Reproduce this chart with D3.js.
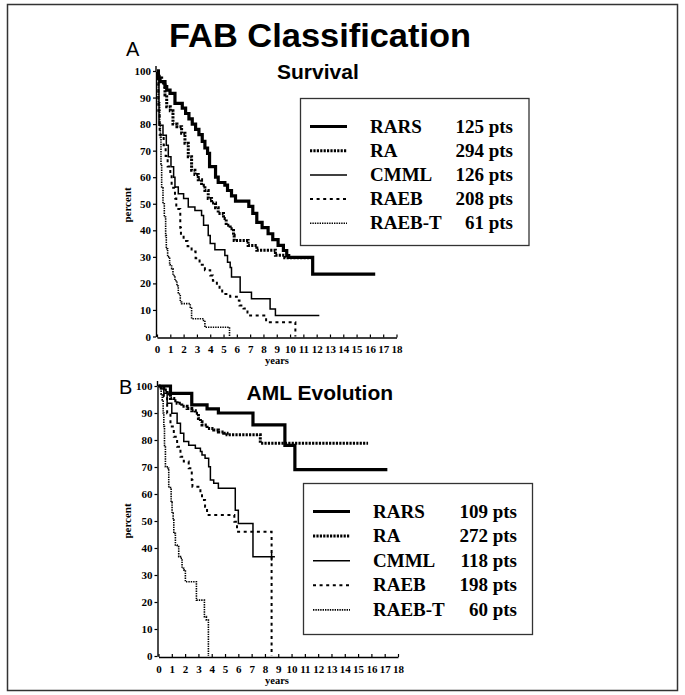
<!DOCTYPE html>
<html>
<head>
<meta charset="utf-8">
<script src="https://cdn.jsdelivr.net/npm/d3@7/dist/d3.min.js"></script>
<style>
  html, body { margin: 0; padding: 0; background: #fff; }
  svg { display: block; }
</style>
</head>
<body>
<script>
// ---- data: Kaplan-Meier step points [years, percent] per FAB subtype ----
const fabGroups = ["RARS", "RA", "CMML", "RAEB", "RAEB-T"];
const survivalPts = [125, 294, 126, 208, 61];
const amlPts = [109, 272, 118, 198, 60];

const yTicks = [0, 10, 20, 30, 40, 50, 60, 70, 80, 90, 100];
const xTicks = d3.range(0, 19);

// Panel A: survival
const survRARS = [[0,100],[0.1,97.2],[0.23,96],[0.6,94.1],[0.73,92.8],[0.98,91.6],[1.35,87.8],
  [1.9,86],[2.15,84],[2.4,82],[2.65,80],[2.9,78],[3.15,76],[3.4,73.5],[3.6,71],[3.8,69],[3.95,64],
  [4.4,60],[4.6,58],[5.1,57],[5.3,55],[5.6,53],[5.9,51],[6.9,49],[7.2,46.4],[7.5,43],[7.9,41],
  [8.35,38.7],[8.7,36.5],[9.1,34.3],[9.5,32.4],[9.75,30.5],[9.9,29.8],[11.7,23.5],[16.4,23.5]];
const survRA = [[0,100],[0.1,98],[0.35,95.5],[0.6,91],[0.73,86.5],[1.0,85],[1.2,80],[1.5,79],
  [1.85,76.6],[2.1,72.8],[2.35,67.7],[2.6,62.6],[2.85,61],[3.1,59],[3.35,57],[3.6,55],[3.85,52],
  [4.1,50.3],[4.4,48.5],[4.6,46.3],[5.0,44.4],[5.2,41.9],[5.5,40.6],[5.75,38.1],[5.8,36.2],
  [6.85,34.3],[7.5,32.5],[8.9,30.6],[9.6,29.7],[11.6,29.7]];
const survCMML = [[0,100],[0.15,79.6],[0.45,75.8],[0.7,72],[0.85,67.7],[1.05,63.9],[1.25,60],
  [1.35,56.3],[1.6,53.8],[2.0,52],[2.35,48.8],[2.85,47.5],[3.35,45.6],[3.5,41.9],[3.85,38],
  [4.0,35],[4.35,32.7],[5.1,30.5],[5.3,28],[5.5,26],[5.6,22.4],[6.25,16.7],[7.1,14.2],
  [8.5,10.4],[8.9,7.9],[12.2,7.9]];
const survRAEB = [[0,100],[0.1,85],[0.2,76],[0.5,72],[0.65,68],[0.8,64],[1.0,61],[1.1,56],
  [1.35,52],[1.45,48],[1.75,41],[1.8,38],[2.0,36],[2.3,34],[2.6,32],[2.9,29.5],[3.2,27],
  [3.6,25],[4.0,23],[4.2,21],[4.5,19.5],[4.7,18],[4.9,16],[5.5,15],[6.0,13.6],[6.2,11.7],
  [6.5,10.5],[6.8,9],[7.0,7.9],[8.2,5.4],[10.4,0]];
const survRAEBT = [[0,100],[0.1,88],[0.2,80],[0.25,75],[0.3,65],[0.35,56],[0.45,50],[0.55,45],
  [0.65,38],[0.7,33],[0.8,30],[0.95,27],[1.1,25.5],[1.2,23],[1.35,21],[1.5,19],[1.6,16],
  [1.75,13],[1.85,12.4],[2.5,11],[2.6,6.7],[3.5,6],[3.6,3.5],[5.45,0]];

// Panel B: AML evolution
const amlRARS = [[0,100],[0.9,97.3],[2.5,93],[3.65,91.5],[4.5,90],[7.1,85.6],[9.5,78],
  [10.25,69],[17.2,69]];
const amlRA = [[0,100],[0.2,99.3],[0.4,98.5],[0.65,97],[0.9,95.4],[1.15,94.5],[1.4,93.6],
  [1.75,92.5],[2.15,91.7],[2.5,90.8],[2.77,89.9],[3.0,88],[3.15,86.8],[3.27,85.6],[3.65,84.3],
  [4.15,83.7],[4.5,83],[4.9,82.5],[5.15,81.9],[7.65,78.8],[15.75,78.8]];
const amlCMML = [[0,100],[0.4,97.3],[0.65,93.6],[1.0,89.9],[1.4,86.2],[1.65,82.5],[1.9,79.4],
  [2.27,78.1],[2.77,76.9],[3.15,75.7],[3.27,74.4],[3.5,73.2],[3.77,70.1],[3.9,65.2],[4.15,64],
  [4.5,62.1],[5.77,54],[6.0,49.1],[7.1,36.8],[8.75,36.8]];
const amlRAEB = [[0,100],[0.15,99.1],[0.4,96],[0.65,89.9],[0.9,85],[1.15,81.2],[1.4,77.5],
  [1.65,73.8],[1.9,72],[2.27,69.5],[2.5,65.2],[2.55,62.7],[3.15,60],[3.27,57.8],[3.5,55.3],
  [3.65,52.2],[5.7,49.7],[5.9,46],[8.5,0]];
const amlRAEBT = [[0,100],[0.1,99.8],[0.2,97],[0.28,94.8],[0.35,90],[0.4,85],[0.45,78],
  [0.52,70.1],[0.65,69.5],[0.77,62.7],[0.9,62.1],[0.95,57],[1.02,52.9],[1.1,50.4],[1.15,45.4],
  [1.27,41.1],[1.4,40.5],[1.52,36.8],[1.65,36.2],[1.77,32.5],[1.9,31.9],[2.02,27.5],
  [2.85,20.7],[3.45,14.6],[3.6,13.3],[3.75,0]];
// censored observation marks [years, percent]
const amlCensorCMML = [[8.5, 36.8]];

// ---- drawing ----
const W = 685, H = 695;
const serif = "'Liberation Serif', 'Times New Roman', serif";
const sans = "'Liberation Sans', Arial, Helvetica, sans-serif";

const lineStyle = {
  "RARS":   { w: 3.2, dash: null },
  "RA":     { w: 3.0, dash: "2.2,1.2" },
  "CMML":   { w: 1.5, dash: null },
  "RAEB":   { w: 2.0, dash: "3,3.6" },
  "RAEB-T": { w: 1.6, dash: "1.4,1" }
};

const svg = d3.select("body").append("svg")
  .attr("width", W).attr("height", H)
  .attr("viewBox", `0 0 ${W} ${H}`);

// outer frame
svg.append("rect")
  .attr("x", 7.5).attr("y", 4.5).attr("width", 670).attr("height", 686)
  .attr("fill", "none").attr("stroke", "#333").attr("stroke-width", 1.5);

// main heading
svg.append("text")
  .attr("x", 169).attr("y", 47)
  .attr("textLength", 302).attr("lengthAdjust", "spacingAndGlyphs")
  .style("font-family", sans).style("font-weight", "bold").style("font-size", "34px")
  .attr("fill", "#000")
  .text("FAB Classification");

const panels = [
  {
    letter: "A", letterPos: [126, 56], title: "Survival", titlePos: [277, 79],
    x0: 157, x1: 396.5, yTop: 71, yBot: 336.5,
    series: [survRARS, survRA, survCMML, survRAEB, survRAEBT], pts: survivalPts, censor: [],
    legend: { x: 300.5, y: 98.5, w: 228.5, h: 147, lx0: 310, lx1: 347, tx: 370, px: 513, ty0: 126.5, dy: 24.2 },
    yearsY: 364, percentY: 205
  },
  {
    letter: "B", letterPos: [119, 394], title: "AML Evolution", titlePos: [246.5, 400],
    x0: 158.5, x1: 398, yTop: 386, yBot: 656,
    series: [amlRARS, amlRA, amlCMML, amlRAEB, amlRAEBT], pts: amlPts,
    censor: [{ group: "CMML", pts: amlCensorCMML }],
    legend: { x: 303.5, y: 483.5, w: 229, h: 151, lx0: 313, lx1: 350, tx: 373, px: 517, ty0: 511.5, dy: 24.6 },
    yearsY: 684, percentY: 521
  }
];

panels.forEach(p => {
  const g = svg.append("g");
  const x = d3.scaleLinear().domain([0, 18]).range([p.x0, p.x1]);
  const y = d3.scaleLinear().domain([0, 100]).range([p.yBot, p.yTop]);

  // panel letter and title
  g.append("text").attr("x", p.letterPos[0]).attr("y", p.letterPos[1])
    .style("font-family", sans).style("font-size", "20px").attr("fill", "#000").text(p.letter);
  g.append("text").attr("x", p.titlePos[0]).attr("y", p.titlePos[1])
    .style("font-family", sans).style("font-weight", "bold").style("font-size", "21px")
    .attr("fill", "#000").text(p.title);

  // axes
  const yAxis = d3.axisLeft(y).tickValues(yTicks).tickSizeInner(3).tickSizeOuter(0).tickPadding(2);
  const xAxis = d3.axisBottom(x).tickValues(xTicks).tickSizeInner(-3).tickSizeOuter(0).tickPadding(8);

  const ya = g.append("g").attr("transform", `translate(${x(0) - 1},0)`).call(yAxis);
  const xa = g.append("g").attr("transform", `translate(0,${y(0) + 1})`).call(xAxis);
  [ya, xa].forEach(a => {
    a.select(".domain").attr("stroke", "#000").attr("stroke-width", 1.4);
    a.selectAll(".tick line").attr("stroke", "#000").attr("stroke-width", 1.2);
    a.selectAll(".tick text")
      .style("font-family", serif).style("font-weight", "bold").style("font-size", "11px")
      .attr("fill", "#000");
  });
  // short extension of the y axis above 100
  g.append("line").attr("x1", x(0) - 1).attr("x2", x(0) - 1)
    .attr("y1", y(100) - 5).attr("y2", y(100))
    .attr("stroke", "#000").attr("stroke-width", 1.4);

  // axis titles
  g.append("text").attr("x", 277).attr("y", p.yearsY).attr("text-anchor", "middle")
    .style("font-family", serif).style("font-weight", "bold").style("font-size", "10.5px")
    .attr("fill", "#000").text("years");
  g.append("text")
    .attr("transform", `translate(131,${p.percentY}) rotate(-90)`)
    .attr("text-anchor", "middle")
    .style("font-family", serif).style("font-weight", "bold").style("font-size", "11px")
    .attr("fill", "#000").text("percent");

  // survival curves
  const line = d3.line().x(d => x(d[0])).y(d => y(d[1])).curve(d3.curveStepAfter);
  p.series.forEach((s, i) => {
    const st = lineStyle[fabGroups[i]];
    g.append("path").datum(s)
      .attr("d", line)
      .attr("fill", "none").attr("stroke", "#000")
      .attr("stroke-width", st.w)
      .attr("stroke-dasharray", st.dash)
      .attr("stroke-linejoin", "miter");
  });

  // censor ticks
  p.censor.forEach(c => {
    g.selectAll(null).data(c.pts).join("line")
      .attr("x1", d => x(d[0])).attr("x2", d => x(d[0]))
      .attr("y1", d => y(d[1]) - 4).attr("y2", d => y(d[1]) + 4)
      .attr("stroke", "#000").attr("stroke-width", 1.5);
  });

  // legend
  const L = p.legend;
  const lg = g.append("g");
  lg.append("rect").attr("x", L.x).attr("y", L.y).attr("width", L.w).attr("height", L.h)
    .attr("fill", "#fff").attr("stroke", "#333").attr("stroke-width", 1.3);
  fabGroups.forEach((name, i) => {
    const st = lineStyle[name];
    const ly = L.ty0 + i * L.dy;
    lg.append("line").attr("x1", L.lx0).attr("x2", L.lx1).attr("y1", ly).attr("y2", ly)
      .attr("stroke", "#000").attr("stroke-width", st.w).attr("stroke-dasharray", st.dash);
    lg.append("text").attr("x", L.tx).attr("y", ly + 6)
      .style("font-family", serif).style("font-weight", "bold").style("font-size", "19px")
      .attr("fill", "#000").text(name);
    lg.append("text").attr("x", L.px).attr("y", ly + 6).attr("text-anchor", "end")
      .style("font-family", serif).style("font-weight", "bold").style("font-size", "19px")
      .attr("fill", "#000").text(`${p.pts[i]} pts`);
  });
});
</script>
</body>
</html>
